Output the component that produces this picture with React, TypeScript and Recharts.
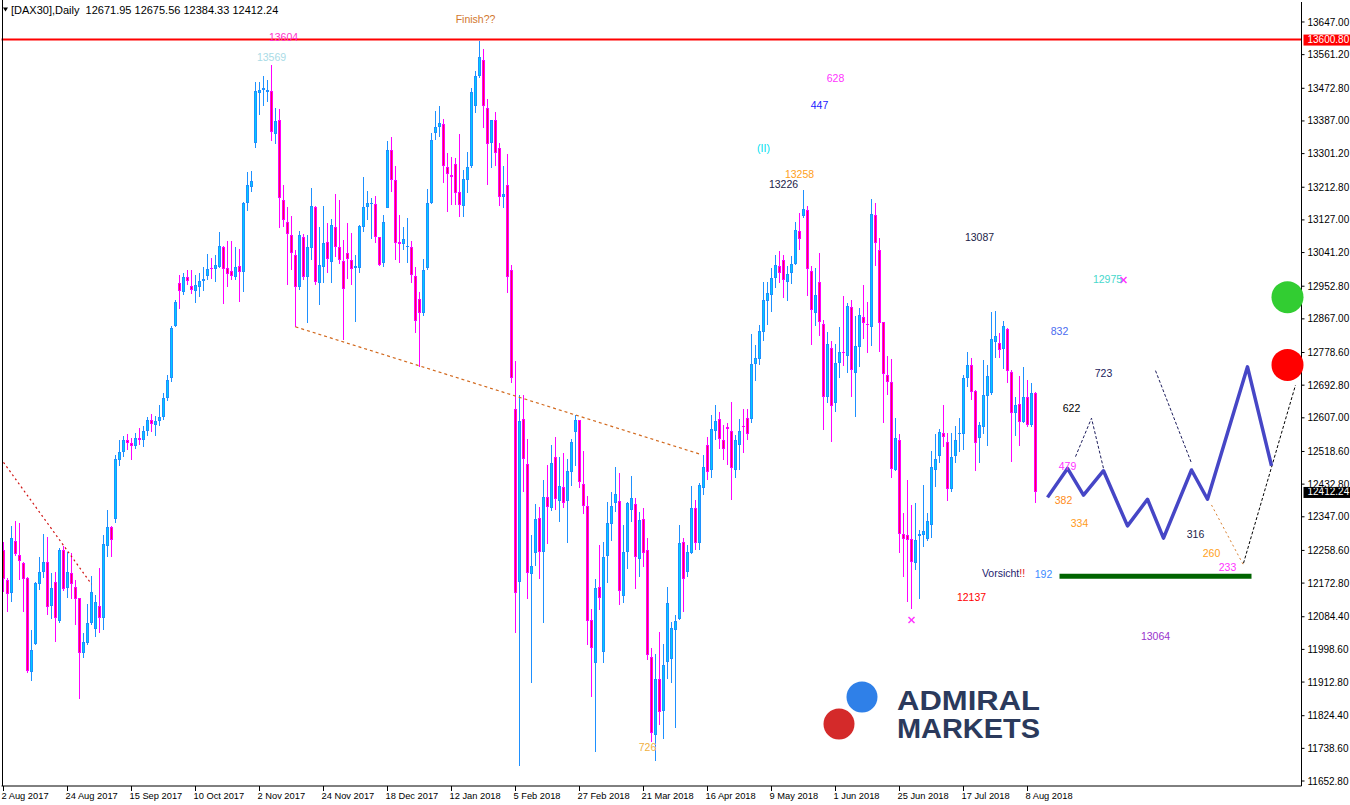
import React from 'react';
import { ComposedChart, Bar, Line, XAxis, YAxis, ReferenceLine, ReferenceDot } from 'recharts';

const FONT = '"Liberation Sans", Arial, Helvetica, sans-serif';

// ---------- daily OHLC, DAX30 (2 Aug 2017 .. 10 Aug 2018) ----------
const opens = [
  12260,12181,12146,12283,12247,12225,12185,11940,12012,12170,
  12203,12229,12113,12175,12073,12260,12159,12199,12162,12133,
  11988,12015,12067,12051,12113,12081,12271,12321,12340,12496,
  12518,12548,12540,12532,12555,12548,12572,12600,12588,12598,
  12608,12660,12712,12848,12961,12938,12976,12953,12941,12952,
  12966,12980,13001,12997,13004,13055,13000,12993,12978,13006,
  12991,13171,13214,13328,13461,13467,13464,13466,13352,13390,
  13179,13121,13087,13035,12952,13081,12976,13052,13160,12961,
  13003,13070,13017,13109,13055,13020,13039,13022,13001,13001,
  13109,13162,13168,13168,13081,13013,13158,13311,13232,13070,
  13064,13055,13055,12980,12918,12882,13000,13171,13355,13370,
  13378,13265,13245,13273,13201,13164,13232,13269,13426,13505,
  13547,13420,13330,13390,13315,13188,13219,12995,12629,12176,
  12603,12486,12196,12251,12343,12254,12398,12369,12505,12389,
  12426,12389,12464,12571,12601,12433,12375,12076,11962,12162,
  11991,12245,12327,12382,12389,12140,12255,12365,12380,12236,
  12340,12260,11978,11773,11920,11838,11966,11973,12050,12078,
  12280,12203,12251,12371,12279,12423,12536,12470,12573,12603,
  12549,12582,12573,12470,12536,12586,12606,12603,12748,12761,
  12833,12915,12930,12974,13006,13022,12965,12988,13010,13098,
  13137,13153,12993,12883,12963,12854,12661,12790,12645,12750,
  12779,12770,12897,12724,12794,12873,12854,12846,13140,13048,
  12860,12720,12700,12470,12549,12301,12298,12288,12226,12297,
  12299,12288,12325,12470,12507,12568,12543,12420,12507,12564,
  12564,12711,12746,12678,12553,12584,12664,12671,12807,12803,
  12787,12840,12727,12619,12643,12597,12661,12588,12671.95,
];
const highs = [
  12282,12186,12323,12336,12331,12229,12189,12050,12176,12242,
  12302,12293,12199,12201,12264,12270,12255,12253,12181,12134,
  12042,12118,12191,12142,12212,12300,12365,12323,12509,12549,
  12560,12565,12555,12568,12580,12585,12610,12618,12612,12640,
  12672,12720,12848,12917,12982,12987,12995,12995,12982,12987,
  13003,13037,13026,13035,13095,13059,13072,13072,13057,13050,
  13173,13254,13256,13490,13490,13505,13495,13534,13420,13418,
  13219,13162,13137,13048,13098,13089,13087,13210,13164,13109,
  13164,13120,13129,13195,13179,13074,13120,13093,13035,13114,
  13241,13203,13184,13190,13082,13140,13333,13344,13269,13140,
  13109,13133,13072,13004,12938,13024,13208,13355,13413,13426,
  13392,13302,13292,13289,13353,13258,13306,13473,13518,13597,
  13576,13444,13390,13411,13328,13269,13300,13009,12755,12667,
  12667,12551,12299,12380,12372,12444,12483,12536,12556,12503,
  12514,12499,12551,12614,12602,12520,12402,12104,12183,12273,
  12280,12387,12411,12477,12463,12325,12387,12454,12397,12360,
  12369,12292,12003,11987,12044,12012,12162,12070,12089,12325,
  12291,12273,12428,12391,12435,12509,12557,12614,12641,12621,
  12588,12593,12649,12562,12603,12629,12629,12827,12798,12851,
  12965,12965,13000,13035,13044,13035,13006,13032,13122,13146,
  13206,13164,13006,13000,13041,12864,12832,12810,12801,12846,
  12927,12908,12917,12875,12895,12956,12910,13181,13172,13079,
  12860,12769,12762,12607,12564,12358,12444,12378,12384,12312,
  12431,12358,12520,12564,12577,12641,12566,12568,12586,12606,
  12720,12781,12764,12680,12597,12759,12746,12886,12888,12829,
  12861,12844,12733,12663,12717,12740,12706,12699,12675.56,
];
const lows = [
  12150,12098,12124,12244,12181,12098,11936,11916,12010,12155,
  12185,12089,12079,12019,12069,12153,12134,12130,12063,11868,
  11977,12010,12063,12032,12041,12050,12242,12242,12330,12481,
  12505,12522,12496,12525,12535,12530,12560,12570,12560,12585,
  12600,12650,12700,12846,12892,12930,12956,12932,12908,12924,
  12941,12969,12971,12965,13000,12906,12952,12969,12969,12912,
  12938,13151,13201,13315,13403,13427,13438,13335,13327,13105,
  13108,12956,12995,12846,12943,12969,12855,13022,12956,12903,
  12962,12987,12962,13030,13011,12812,12971,12956,12860,12987,
  13096,13127,13077,13067,13006,13004,13158,13201,13022,13013,
  13048,13015,12962,12831,12741,12875,12995,13168,13337,13344,
  13223,13149,13166,13166,13134,13135,13199,13263,13409,13499,
  13369,13219,13264,13269,13164,13158,12936,12698,12042,11692,
  12413,12130,11910,12219,12183,12069,12275,12362,12365,12332,
  12369,12279,12428,12480,12423,12354,12010,11874,11730,12102,
  11962,12174,12284,12360,12115,12120,12209,12333,12157,12188,
  12214,11971,11756,11706,11800,11763,11920,11911,11791,12076,
  12098,12188,12249,12260,12260,12404,12444,12449,12549,12524,
  12496,12483,12391,12449,12470,12514,12549,12594,12704,12746,
  12810,12851,12886,12947,12961,12923,12915,12959,13009,13048,
  13132,12927,12798,12848,12822,12575,12647,12544,12623,12711,
  12743,12726,12663,12610,12741,12813,12777,12797,13006,12781,
  12593,12667,12448,12466,12251,12188,12124,12104,12207,12130,
  12267,12284,12290,12425,12488,12530,12389,12411,12489,12518,
  12523,12689,12654,12466,12488,12564,12534,12667,12764,12764,
  12735,12698,12492,12560,12534,12594,12584,12584,12384.33,
];
const closes = [
  12183,12143,12290,12248,12232,12184,11943,11997,12172,12203,
  12229,12111,12159,12080,12260,12157,12201,12170,12132,11990,
  12017,12067,12150,12124,12081,12275,12321,12287,12498,12518,
  12548,12540,12532,12555,12550,12572,12600,12590,12598,12608,
  12660,12706,12842,12911,12941,12976,12967,12943,12956,12967,
  12972,12997,12998,13008,13059,12999,12985,12980,13003,12989,
  13171,13219,13229,13466,13468,13473,13468,13359,13387,13184,
  13127,13089,13039,12950,13087,12978,13057,13164,12963,13008,
  13066,13024,13113,13055,13022,12945,13024,12997,13005,13111,
  13160,13171,13171,13083,13009,13122,13311,13232,13066,13064,
  13076,13059,12982,12862,12883,12995,13171,13337,13370,13381,
  13269,13247,13240,13197,13166,13234,13267,13462,13505,13554,
  13425,13326,13389,13302,13188,13194,12978,12711,12148,12599,
  12498,12199,12218,12340,12255,12400,12372,12488,12393,12429,
  12382,12468,12543,12600,12438,12376,12074,12002,12159,12133,
  12241,12330,12375,12406,12153,12255,12382,12396,12242,12339,
  12253,11984,11778,11920,11835,11958,12120,12054,12073,12277,
  12183,12254,12371,12277,12431,12478,12465,12577,12599,12551,
  12524,12577,12475,12549,12572,12582,12564,12748,12763,12835,
  12917,12934,12974,13009,12987,12969,12984,13011,13101,13076,
  13155,12997,12889,12930,12860,12663,12801,12639,12750,12781,
  12777,12901,12733,12796,12877,12857,12852,13143,13066,12857,
  12721,12700,12473,12553,12301,12288,12286,12229,12286,12302,
  12310,12337,12479,12498,12571,12557,12420,12505,12549,12566,
  12712,12746,12676,12542,12588,12667,12717,12813,12822,12785,
  12848,12730,12619,12641,12597,12661,12588,12671,12412.24,
];

// ---------- axes ----------
const SLOT_COUNT = 325; // trading-day slots incl. empty projection area
const xTickIdx = [0, 16, 32, 48, 64, 80, 96, 112, 128, 144, 160, 176, 192, 208, 224, 240, 256];
const xTickLabels = [
  '2 Aug 2017', '24 Aug 2017', '15 Sep 2017', '10 Oct 2017', '2 Nov 2017', '24 Nov 2017',
  '18 Dec 2017', '12 Jan 2018', '5 Feb 2018', '27 Feb 2018', '21 Mar 2018', '16 Apr 2018',
  '9 May 2018', '1 Jun 2018', '25 Jun 2018', '17 Jul 2018', '8 Aug 2018',
];
const yTicks = [
  13647.0, 13561.2, 13472.8, 13387.0, 13301.2, 13212.8, 13127.0, 13041.2, 12952.8, 12867.0,
  12778.6, 12692.8, 12607.0, 12518.6, 12432.8, 12347.0, 12258.6, 12172.8, 12084.4, 11998.6,
  11912.8, 11824.4, 11738.6, 11652.8,
];
const yDomain = [11639.7, 13699.5];

// ---------- drawn objects (slot index, price) ----------
const resistanceLevel = 13600.8;
const redTrendIdx = [0, 22];
const redTrendPrice = [12490, 12170];
const orangeTrendIdx = [73, 174];
const orangeTrendPrice = [12846, 12512];
const zigIdx = [261, 266, 270, 275, 281, 286, 290, 297, 301, 311, 317];
const zigPrice = [12398, 12474, 12404, 12468, 12323, 12393, 12291, 12470, 12393, 12741, 12481];
const navyAIdx = [268, 272, 275];
const navyAPrice = [12505, 12606, 12474];
const navyBIdx = [288, 297];
const navyBPrice = [12731, 12488];
const orangeBIdx = [302, 310];
const orangeBPrice = [12378, 12220];
const blackIdx = [310, 323];
const blackPrice = [12225, 12693];
const supportIdx = [264, 312];
const supportPrice = [12191, 12191];
const greenDot = { i: 321, p: 12924 };
const redDot = { i: 321, p: 12746 };
const crossMarks = [{ i: 280, p: 12969 }, { i: 227, p: 12076 }];

const notes = [
  { text: 'Finish??', i: 118, p: 13655, color: '#d2772e' },
  { text: '13604', i: 70, p: 13608, color: '#ff33cc' },
  { text: '13569', i: 67, p: 13555, color: '#a9dbe6' },
  { text: '628', i: 208, p: 13500, color: '#ff33ff' },
  { text: '447', i: 204, p: 13429, color: '#1a1aff' },
  { text: '(II)', i: 190, p: 13316, color: '#00e0f0' },
  { text: '13258', i: 199, p: 13248, color: '#ffa020' },
  { text: '13226', i: 195, p: 13221, color: '#1c1c48' },
  { text: '13087', i: 244, p: 13082, color: '#1c1c48' },
  { text: '12975', i: 276, p: 12972, color: '#48d8cc' },
  { text: '832', i: 264, p: 12833, color: '#4a6cf0' },
  { text: '723', i: 275, p: 12725, color: '#1c1c5c' },
  { text: '622', i: 267, p: 12633, color: '#000000' },
  { text: '479', i: 266, p: 12480, color: '#ff33ff' },
  { text: '382', i: 265, p: 12389, color: '#ff8c1a' },
  { text: '334', i: 269, p: 12331, color: '#ff9a20' },
  { text: '316', i: 298, p: 12302, color: '#1c1c48' },
  { text: '260', i: 302, p: 12252, color: '#ffa020' },
  { text: '233', i: 306, p: 12215, color: '#ff33ff' },
  { text: '192', i: 260, p: 12197, color: '#3d8bff' },
  { text: '12137', i: 242, p: 12136, color: '#ff0000' },
  { text: '13064', i: 288, p: 12034, color: '#9932cc' },
  { text: '726', i: 161, p: 11742, color: '#f0b040' },
];
const warnNote = { i: 250, p: 12199 };

// ---------- build table ----------
type Row = { i: number; [k: string]: any };
const rows: Row[] = Array.from({ length: SLOT_COUNT }, (_, i) => {
  const r: Row = { i };
  if (i < opens.length) {
    r.o = opens[i]; r.h = highs[i]; r.l = lows[i]; r.c = closes[i];
    r.range = [lows[i], highs[i]];
  }
  return r;
});
function attach(key: string, idx: number[], vals: number[]) {
  idx.forEach((ix, k) => { rows[ix][key] = vals[k]; });
}
attach('redTrend', redTrendIdx, redTrendPrice);
attach('orangeTrend', orangeTrendIdx, orangeTrendPrice);
attach('zig', zigIdx, zigPrice);
attach('navyA', navyAIdx, navyAPrice);
attach('navyB', navyBIdx, navyBPrice);
attach('orangeB', orangeBIdx, orangeBPrice);
attach('blackDash', blackIdx, blackPrice);
attach('support', supportIdx, supportPrice);

const BULL_EDGE = '#1e90ff';
const BULL_FILL = '#00ccff';
const BEAR_EDGE = '#ff00ff';
const BEAR_FILL = '#ff0050';

function Candle(props: any) {
  const { x, y, width, height, payload } = props;
  if (!payload || payload.o == null || !isFinite(y) || !isFinite(height)) return <g />;
  const { o, h, l, c } = payload;
  const top = Math.min(y, y + height);
  const bot = Math.max(y, y + height);
  const k = h === l ? 0 : (bot - top) / (h - l);
  const py = (p: number) => top + (h - p) * k;
  const cx = Math.round(x + width / 2 - 0.5) + 0.5;
  const up = c >= o;
  const edge = up ? BULL_EDGE : BEAR_EDGE;
  const fill = up ? BULL_FILL : BEAR_FILL;
  const bTop = Math.round(Math.min(py(o), py(c)));
  const bBot = Math.round(Math.max(py(o), py(c)));
  const bh = Math.max(1, bBot - bTop);
  return (
    <g>
      <line x1={cx} x2={cx} y1={Math.round(top)} y2={Math.round(bot)} stroke={edge} strokeWidth={1} />
      <rect x={cx - 1.5} y={bTop} width={3} height={bh} fill={edge} />
      {bh > 2 && <rect x={cx - 0.5} y={bTop + 1} width={1} height={bh - 2} fill={fill} />}
    </g>
  );
}

function XTick(props: any) {
  const { x, y, payload } = props;
  const k = xTickIdx.indexOf(payload.value);
  if (k < 0) return <g />;
  return (
    <text x={x - 2} y={y + 7} fontSize={9.3} fontFamily={FONT} fill="#000" textAnchor="start">
      {xTickLabels[k]}
    </text>
  );
}

function PriceTag(props: any) {
  const { viewBox, text, bg } = props;
  if (!viewBox) return <g />;
  const right = viewBox.x + viewBox.width;
  const yy = viewBox.y;
  return (
    <g>
      <rect x={right + 2} y={yy - 5} width={48} height={11} fill={bg} />
      <text x={right + 6} y={yy} dy="0.35em" fontSize={10} fontFamily={FONT} fill="#fff">{text}</text>
    </g>
  );
}

const dashLines = [
  { key: 'redTrend', stroke: '#d01010', width: 1.2, dash: '2 3' },
  { key: 'orangeTrend', stroke: '#d2691e', width: 1.2, dash: '3 3' },
  { key: 'navyA', stroke: '#1c1c5c', width: 1, dash: '3 2' },
  { key: 'navyB', stroke: '#1c1c5c', width: 1, dash: '3 2' },
  { key: 'orangeB', stroke: '#d98030', width: 1, dash: '2 3' },
  { key: 'blackDash', stroke: '#000000', width: 1, dash: '3 2' },
];

export default function App() {
  const lastIdx = opens.length - 1;
  const header = `[DAX30],Daily  ${opens[lastIdx].toFixed(2)} ${highs[lastIdx].toFixed(2)} ${lows[lastIdx].toFixed(2)} ${closes[lastIdx].toFixed(2)}`;
  return (
    <div style={{ position: 'absolute', left: 0, top: 0, width: 1350, height: 805, background: '#fff', overflow: 'hidden' }}>
      <ComposedChart
        width={1350}
        height={805}
        data={rows}
        margin={{ top: 2, right: 0, left: 1.5, bottom: 0 }}
        barCategoryGap={0}
        barGap={0}
      >
        <XAxis
          dataKey="i"
          type="category"
          ticks={xTickIdx}
          interval={0}
          tick={<XTick />}
          tickSize={5}
          tickMargin={1}
          height={19}
          axisLine={{ stroke: '#000' }}
          tickLine={{ stroke: '#000' }}
        />
        <YAxis
          orientation="right"
          type="number"
          domain={yDomain}
          allowDataOverflow
          ticks={yTicks}
          interval={0}
          width={48.5}
          tickSize={3}
          tickMargin={3}
          tickFormatter={(v: number) => v.toFixed(2)}
          tick={{ fontSize: 10, fill: '#000', fontFamily: FONT }}
          axisLine={{ stroke: '#000' }}
          tickLine={{ stroke: '#000' }}
        />
        {dashLines.map((d) => (
          <Line
            key={d.key}
            dataKey={d.key}
            type="linear"
            stroke={d.stroke}
            strokeWidth={d.width}
            strokeDasharray={d.dash}
            dot={false}
            activeDot={false}
            connectNulls
            isAnimationActive={false}
          />
        ))}
        <Bar dataKey="range" barSize={4} shape={(p: any) => <Candle {...p} />} isAnimationActive={false} />
        <Line dataKey="support" type="linear" stroke="#006400" strokeWidth={5} dot={false} activeDot={false} connectNulls isAnimationActive={false} />
        <Line dataKey="zig" type="linear" stroke="#4646c6" strokeWidth={3.5} strokeLinejoin="round" dot={false} activeDot={false} connectNulls isAnimationActive={false} />
        <ReferenceLine
          y={resistanceLevel}
          stroke="#ff0000"
          strokeWidth={2}
          label={<PriceTag text={resistanceLevel.toFixed(2)} bg="#ff0000" />}
        />
        <ReferenceLine
          y={closes[lastIdx]}
          stroke="transparent"
          label={<PriceTag text={closes[lastIdx].toFixed(2)} bg="#000000" />}
        />
        <ReferenceDot x={greenDot.i} y={greenDot.p} r={16} fill="#32cd32" stroke="none" ifOverflow="visible" />
        <ReferenceDot x={redDot.i} y={redDot.p} r={16} fill="#ff0000" stroke="none" ifOverflow="visible" />
        {crossMarks.map((m, k) => (
          <ReferenceDot
            key={'x' + k}
            x={m.i}
            y={m.p}
            r={3}
            ifOverflow="visible"
            shape={(p: any) => (
              <g stroke="#ff33ff" strokeWidth={1.5}>
                <line x1={p.cx - 3} y1={p.cy - 3} x2={p.cx + 3} y2={p.cy + 3} />
                <line x1={p.cx - 3} y1={p.cy + 3} x2={p.cx + 3} y2={p.cy - 3} />
              </g>
            )}
          />
        ))}
        {notes.map((n, k) => (
          <ReferenceDot
            key={'n' + k}
            x={n.i}
            y={n.p}
            r={1}
            ifOverflow="visible"
            shape={(p: any) => (
              <text x={p.cx} y={p.cy} dy="0.35em" textAnchor="middle" fontSize={10.5} fontFamily={FONT} fill={n.color}>
                {n.text}
              </text>
            )}
          />
        ))}
        <ReferenceDot
          x={warnNote.i}
          y={warnNote.p}
          r={1}
          ifOverflow="visible"
          shape={(p: any) => (
            <text x={p.cx} y={p.cy} dy="0.35em" textAnchor="middle" fontSize={10.5} fontFamily={FONT} fill="#1c1c6e">
              Vorsicht<tspan fill="#e02020">!!</tspan>
            </text>
          )}
        />
      </ComposedChart>
      <svg width={1350} height={805} style={{ position: 'absolute', left: 0, top: 0, pointerEvents: 'none' }}>
        <line x1={2.5} y1={0} x2={2.5} y2={786} stroke="#000" strokeWidth={1} />
        <polygon points="3,7.5 8,7.5 5.5,11.5" fill="#000" />
        <text x={11} y={14} fontSize={11} fontFamily={FONT} fill="#000" style={{ whiteSpace: 'pre' }}>{header}</text>
        <circle cx={862} cy={697} r={15.5} fill="#2f80e8" />
        <circle cx={839} cy={724} r={15.5} fill="#d42a2a" />
        <text x={897} y={710} fontSize={27} fontWeight="bold" fontFamily={FONT} fill="#2b3a5c" textLength={143} lengthAdjust="spacingAndGlyphs">ADMIRAL</text>
        <text x={897} y={738} fontSize={27} fontWeight="bold" fontFamily={FONT} fill="#2b3a5c" textLength={143} lengthAdjust="spacingAndGlyphs">MARKETS</text>
      </svg>
    </div>
  );
}
